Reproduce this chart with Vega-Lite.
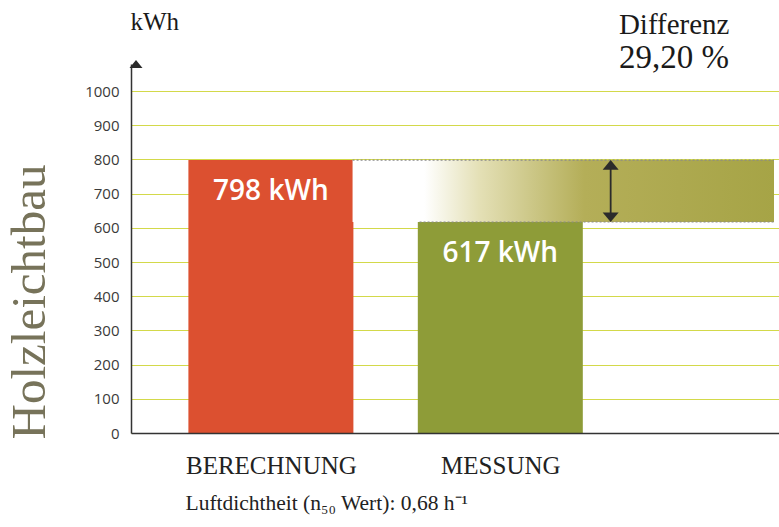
{
  "$schema": "https://vega.github.io/schema/vega-lite/v6.json",
  "autosize": "none",
  "width": 648,
  "height": 369,
  "padding": {"left": 131, "top": 64, "right": 0, "bottom": 94},
  "background": "#ffffff",
  "config": {
    "view": {"stroke": null},
    "axisY": {"labelFont": "Open Sans", "labelFontSize": 15, "labelColor": "#3a3a3a"}
  },
  "layer": [
    {
      "data": {"values": [
        {"kategorie": "BERECHNUNG", "pos": 1, "wert": 798},
        {"kategorie": "MESSUNG", "pos": 2, "wert": 617}
      ]},
      "mark": {"type": "bar", "width": 165},
      "encoding": {
        "x": {
          "field": "pos", "type": "quantitative",
          "scale": {"domain": [0.412, 3.193], "nice": false, "zero": false},
          "axis": {
            "values": [1, 2],
            "labelExpr": "datum.value == 1 ? 'BERECHNUNG' : 'MESSUNG'",
            "labelFont": "Liberation Serif", "labelFontSize": 25, "labelColor": "#222222",
            "labelBaseline": "alphabetic", "labelPadding": 40,
            "ticks": false, "grid": false,
            "domainColor": "#333333", "domainWidth": 1.5, "zindex": 1,
            "title": "Luftdichtheit (n₅₀ Wert): 0,68 h⁻¹",
            "titleFont": "Liberation Serif", "titleFontSize": 21.5, "titleFontWeight": "normal",
            "titleColor": "#222222", "titleX": 54, "titleY": 76,
            "titleAlign": "left", "titleBaseline": "alphabetic"
          }
        },
        "y": {
          "field": "wert", "type": "quantitative",
          "scale": {"domain": [0, 1079], "nice": false},
          "axis": {
            "values": [0, 100, 200, 300, 400, 500, 600, 700, 800, 900, 1000],
            "tickCount": 11, "format": "d", "labelOverlap": false,
            "title": null, "ticks": false, "labelPadding": 12,
            "labelFont": "Open Sans", "labelFontSize": 15, "labelColor": "#3a3a3a",
            "domainColor": "#333333", "domainWidth": 1.5,
            "gridColor": "#d3d94a", "gridWidth": 1
          }
        },
        "color": {
          "field": "kategorie", "type": "nominal",
          "scale": {"domain": ["BERECHNUNG", "MESSUNG"], "range": ["#dc5030", "#8e9c38"]},
          "legend": null
        }
      }
    },
    {
      "data": {"values": [
        {"pos": 1, "wert": 798},
        {"pos": 2, "wert": 617}
      ]},
      "transform": [{"calculate": "datum.wert + ' kWh'", "as": "beschriftung"}],
      "mark": {"type": "text", "color": "#ffffff", "font": "Open Sans", "fontSize": 28, "fontWeight": 600, "baseline": "middle", "dy": 32},
      "encoding": {
        "x": {"field": "pos", "type": "quantitative"},
        "y": {"field": "wert", "type": "quantitative", "axis": {"labelFontSize": 15, "labelFont": "Open Sans"}},
        "text": {"field": "beschriftung"}
      }
    },
    {
      "data": {"values": [{"x_start": 1.356, "x_end": 3.193, "unten": 617, "oben": 798}]},
      "mark": {
        "type": "rect",
        "color": {
          "gradient": "linear", "x1": 0, "y1": 0, "x2": 1, "y2": 0,
          "stops": [
            {"offset": 0, "color": "#ffffff"},
            {"offset": 0.17, "color": "#ffffff"},
            {"offset": 0.3, "color": "#e4e0b6"},
            {"offset": 0.55, "color": "#b4ae58"},
            {"offset": 1, "color": "#a6a446"}
          ]
        }
      },
      "encoding": {
        "x": {"field": "x_start", "type": "quantitative"},
        "x2": {"field": "x_end"},
        "y": {"field": "unten", "type": "quantitative"},
        "y2": {"field": "oben"}
      }
    },
    {
      "data": {"values": [
        {"x_start": 1.356, "x_end": 3.193, "wert": 798},
        {"x_start": 1.648, "x_end": 3.193, "wert": 617}
      ]},
      "mark": {"type": "rule", "color": "#8a8a8a", "strokeWidth": 1.2, "strokeDash": [2, 2]},
      "encoding": {
        "x": {"field": "x_start", "type": "quantitative"},
        "x2": {"field": "x_end"},
        "y": {"field": "wert", "type": "quantitative"}
      }
    },
    {
      "data": {"values": [{"x": 2.481, "von": 628, "bis": 788}]},
      "mark": {"type": "rule", "color": "#2b2b2b", "strokeWidth": 1.8},
      "encoding": {
        "x": {"field": "x", "type": "quantitative"},
        "y": {"field": "von", "type": "quantitative"},
        "y2": {"field": "bis"}
      }
    },
    {
      "data": {"values": [{"x": 2.481, "y": 784}]},
      "mark": {"type": "point", "shape": "M-1,0.6L1,0.6L0,-0.6Z", "filled": true, "color": "#2b2b2b", "opacity": 1, "size": 256},
      "encoding": {
        "x": {"field": "x", "type": "quantitative"},
        "y": {"field": "y", "type": "quantitative"}
      }
    },
    {
      "data": {"values": [{"x": 2.481, "y": 631}]},
      "mark": {"type": "point", "shape": "M-1,-0.6L1,-0.6L0,0.6Z", "filled": true, "color": "#2b2b2b", "opacity": 1, "size": 256},
      "encoding": {
        "x": {"field": "x", "type": "quantitative"},
        "y": {"field": "y", "type": "quantitative"}
      }
    },
    {
      "data": {"values": [{"x": 0.412, "y": 1079}]},
      "mark": {"type": "point", "shape": "M-1,0.6L1,0.6L0,-0.6Z", "filled": true, "color": "#2b2b2b", "opacity": 1, "size": 169},
      "encoding": {
        "x": {"field": "x", "type": "quantitative"},
        "y": {"field": "y", "type": "quantitative"}
      }
    },
    {
      "data": {"values": [{"text": "kWh", "x": 0.494, "y": 1202}]},
      "mark": {"type": "text", "font": "Liberation Serif", "fontSize": 25, "color": "#1a1a1a", "baseline": "middle"},
      "encoding": {
        "x": {"field": "x", "type": "quantitative"},
        "y": {"field": "y", "type": "quantitative"},
        "text": {"field": "text"}
      }
    },
    {
      "data": {"values": [{"text": "Differenz", "x": 2.758, "y": 1192}]},
      "mark": {"type": "text", "font": "Liberation Serif", "fontSize": 29, "color": "#1a1a1a", "baseline": "middle"},
      "encoding": {
        "x": {"field": "x", "type": "quantitative"},
        "y": {"field": "y", "type": "quantitative"},
        "text": {"field": "text"}
      }
    },
    {
      "data": {"values": [{"text": "29,20 %", "x": 2.757, "y": 1096}]},
      "mark": {"type": "text", "font": "Liberation Serif", "fontSize": 33, "color": "#1a1a1a", "baseline": "middle"},
      "encoding": {
        "x": {"field": "x", "type": "quantitative"},
        "y": {"field": "y", "type": "quantitative"},
        "text": {"field": "text"}
      }
    },
    {
      "data": {"values": [{"text": "Holzleichtbau", "x": 0.017, "y": 383}]},
      "mark": {"type": "text", "font": "Liberation Serif", "fontSize": 49, "color": "#77735a", "angle": 270, "baseline": "alphabetic", "align": "center"},
      "encoding": {
        "x": {"field": "x", "type": "quantitative"},
        "y": {"field": "y", "type": "quantitative"},
        "text": {"field": "text"}
      }
    }
  ]
}
